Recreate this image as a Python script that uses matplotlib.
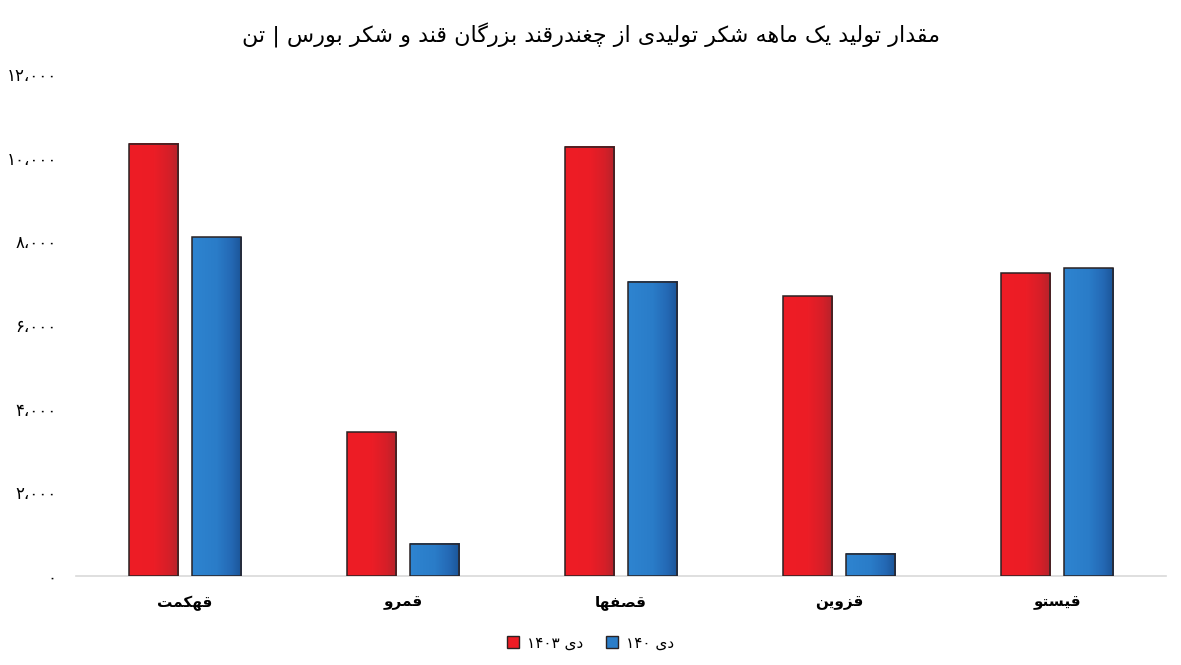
import re
import numpy as np
import matplotlib
matplotlib.use("Agg")
from matplotlib import pyplot as plt
from matplotlib.colors import LinearSegmentedColormap
from matplotlib.patches import Patch

# datos (texto en orden logico, persa)
titulo = "مقدار تولید یک ماهه شکر تولیدی از چغندرقند بزرگان قند و شکر بورس | تن"
empresas = ["قهکمت", "قمرو", "قصفها", "قزوین", "قیستو"]
serie_1403 = [10330, 3440, 10260, 6690, 7240]
serie_140 = [8100, 770, 7030, 530, 7360]
leyenda = ["دی ۱۴۰۳", "دی ۱۴۰"]
ticks_y = [0, 2000, 4000, 6000, 8000, 10000, 12000]

# formas de presentacion arabes: iso, fin, ini, med
DUAL = {'ب': 0xFE8F, 'ت': 0xFE95, 'ث': 0xFE99, 'ج': 0xFE9D, 'ح': 0xFEA1,
        'خ': 0xFEA5, 'س': 0xFEB1, 'ش': 0xFEB5, 'ص': 0xFEB9, 'ض': 0xFEBD,
        'ط': 0xFEC1, 'ظ': 0xFEC5, 'ع': 0xFEC9, 'غ': 0xFECD, 'ف': 0xFED1,
        'ق': 0xFED5, 'ل': 0xFEDD, 'م': 0xFEE1, 'ن': 0xFEE5, 'ه': 0xFEE9,
        'ی': 0xFBFC, 'ک': 0xFB8E, 'گ': 0xFB92, 'چ': 0xFB7A, 'پ': 0xFB56}
DERECHA = {'ا': 0xFE8D, 'آ': 0xFE81, 'د': 0xFEA9, 'ذ': 0xFEAB, 'ر': 0xFEAD,
           'ز': 0xFEAF, 'ژ': 0xFB8A, 'و': 0xFEED}


def da_forma(texto):
    res = []
    for i, c in enumerate(texto):
        prev = texto[i - 1] if i > 0 else ""
        sig = texto[i + 1] if i + 1 < len(texto) else ""
        if c in DUAL:
            base = DUAL[c]
        elif c in DERECHA:
            base = DERECHA[c]
        else:
            res.append(c)
            continue
        une_prev = prev in DUAL
        une_sig = c in DUAL and (sig in DUAL or sig in DERECHA)
        if une_prev and une_sig:
            res.append(chr(base + 3))
        elif une_prev:
            res.append(chr(base + 1))
        elif une_sig:
            res.append(chr(base + 2))
        else:
            res.append(chr(base))
    visual = "".join(res)[::-1]
    # los numeros se leen de izquierda a derecha
    return re.sub(r"[0-9۰-۹]+", lambda m: m.group(0)[::-1], visual)


def persa(n):
    s = f"{n:,}".replace(",", "،")
    return s.translate(str.maketrans("0123456789", "۰۱۲۳۴۵۶۷۸۹"))


plt.rcParams['font.family'] = ['DejaVu Sans']

fig = plt.figure(figsize=(11.81, 6.65), dpi=100)
ax = fig.add_axes([0.0644, 0.1338, 0.9229, 0.7549])

x = np.arange(len(empresas))
ancho = 0.225
desp = 0.143

rojo = LinearSegmentedColormap.from_list("r", [(0, "#ee1c25"), (0.5, "#ec1d26"), (0.8, "#d61f28"), (1, "#b5232b")])
azul = LinearSegmentedColormap.from_list("b", [(0, "#2e84d0"), (0.5, "#2a7cc8"), (0.8, "#2468b4"), (1, "#1b5497")])
grad = np.linspace(0, 1, 64).reshape(1, -1)

barras_r = ax.bar(x - desp, serie_1403, ancho, color="#ed1c24", zorder=2)
barras_b = ax.bar(x + desp, serie_140, ancho, color="#2b7dc8", zorder=2)
for barras, cmap in [(barras_r, rojo), (barras_b, azul)]:
    for b in barras:
        bx, by = b.get_x(), b.get_y()
        w, h = b.get_width(), b.get_height()
        ax.imshow(grad, cmap=cmap, extent=[bx, bx + w, by, by + h],
                  aspect="auto", zorder=3, clip_path=b, interpolation="bilinear")
ax.bar(x - desp, serie_1403, ancho, fill=False, edgecolor="#2a2223", linewidth=1.1, zorder=4)
ax.bar(x + desp, serie_140, ancho, fill=False, edgecolor="#2a2223", linewidth=1.1, zorder=4)

ax.set_xlim(-0.5, len(empresas) - 0.5)
ax.set_ylim(0, 12000)
ax.set_xticks(x, [da_forma(e) for e in empresas], fontsize=11, fontweight="bold")
ax.set_yticks(ticks_y, [persa(t) for t in ticks_y], fontsize=12)
ax.tick_params(axis="both", length=0)
ax.tick_params(axis="y", pad=14)
ax.tick_params(axis="x", pad=14)
for lado in ["top", "right", "left"]:
    ax.spines[lado].set_visible(False)
ax.spines["bottom"].set_color("#d9d9d9")
ax.spines["bottom"].set_linewidth(1.2)

fig.text(0.5, 0.947, da_forma(titulo), ha="center", va="center", fontsize=16)

manejadores = [Patch(facecolor="#ed1c24", edgecolor="#2a2223"),
               Patch(facecolor="#2b7dc8", edgecolor="#2a2223")]
fig.legend(manejadores, [da_forma(t) for t in leyenda], loc="center",
           bbox_to_anchor=(0.5, 0.033), ncol=2, frameon=False, fontsize=11,
           handlelength=0.8, handleheight=0.8, handletextpad=0.5, columnspacing=1.5)

fig.savefig("out.png", dpi=100)
